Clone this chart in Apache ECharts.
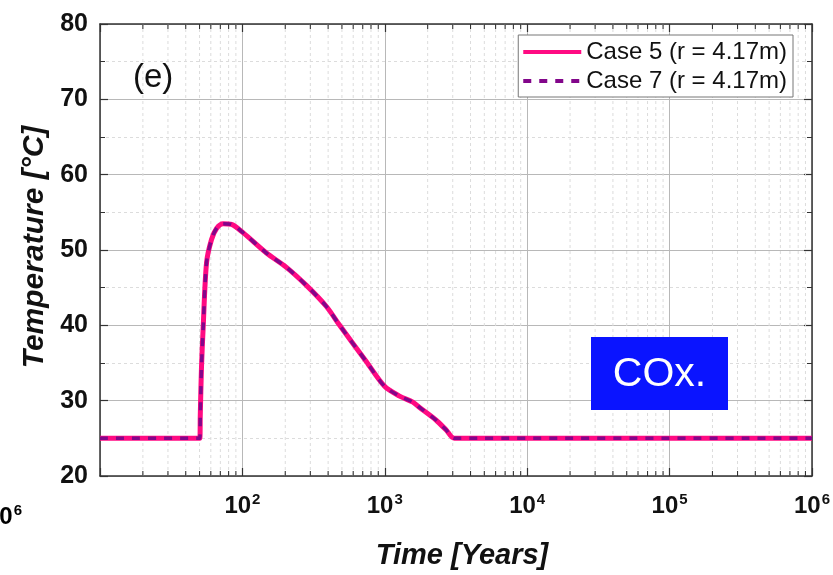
<!DOCTYPE html>
<html>
<head>
<meta charset="utf-8">
<script src="https://cdn.jsdelivr.net/npm/echarts@6/dist/echarts.min.js"></script>
<style>html,body{margin:0;padding:0;background:#fff;}#c{width:833px;height:575px;}</style>
</head>
<body>
<div id="c"></div>
<script>
// ---- data ----
const years = [10, 50.2, 50.6, 51.6, 53.0, 56.0, 60.7, 66.0, 73.2, 83.9, 101, 147.6, 203.8, 281.5, 389, 482, 741, 997, 1270, 1575, 1754, 2296, 2700, 3083, 1000000];
const case5 = [25, 25, 28.0, 34.4, 39.6, 48.3, 51.4, 52.9, 53.5, 53.4, 52.3, 49.6, 47.7, 45.3, 42.5, 40.0, 35.2, 31.9, 30.6, 29.8, 29.1, 27.4, 26.1, 25, 25];
const case7 = [25, 25, 28.0, 34.4, 39.6, 48.3, 51.4, 52.9, 53.5, 53.4, 52.3, 49.6, 47.7, 45.3, 42.5, 40.0, 35.2, 31.9, 30.6, 29.8, 29.1, 27.4, 26.1, 25, 25];
const seriesNames = ['Case 5 (r = 4.17m)', 'Case 7 (r = 4.17m)'];
const decades = [10, 100, 1000, 10000, 100000];
const minorMult = [2, 3, 4, 5, 6, 7, 8, 9];
const yTicks = [20, 30, 40, 50, 60, 70, 80];

const FONT = 'Liberation Sans, Arial, sans-serif';
const minorX = [];
decades.forEach(d => minorMult.forEach(m => minorX.push([d * m, 20])));

const chart = echarts.init(document.getElementById('c'), null, {renderer: 'canvas'});
const xLabel = v => {
  const e = Math.round(Math.log10(v));
  if (e <= 1) return '';
  return '{b|10}{s|' + e + '}';
};
const supRich = {
  b: {fontFamily: FONT, fontWeight: 'bold', fontSize: 24, color: '#111', lineHeight: 28},
  s: {fontFamily: FONT, fontWeight: 'bold', fontSize: 15, color: '#111', verticalAlign: 'top', lineHeight: 28, padding: [0, 0, 12, 1]}
};
const axisLine = {show: true, onZero: false, lineStyle: {color: '#333', width: 1.5}};
const option = {
  animation: false,
  backgroundColor: '#fff',
  grid: {left: 100, right: 21, top: 24, bottom: 90, containLabel: false},
  legend: {
    orient: 'vertical', right: 40, top: 35, z: 20,
    padding: [5, 6, 4, 3], itemGap: 5, itemWidth: 58, itemHeight: 14,
    backgroundColor: '#fff', borderColor: '#777', borderWidth: 1, borderRadius: 0,
    textStyle: {fontFamily: FONT, fontSize: 24, color: '#111', lineHeight: 24},
    itemStyle: {opacity: 0},
    lineStyle: {width: 4},
    data: seriesNames
  },
  xAxis: [{
    type: 'log', logBase: 10, min: 10, max: 1000000, position: 'bottom',
    axisLine: axisLine,
    axisTick: {show: true, inside: true, length: 8, lineStyle: {color: '#333', width: 1.2}},
    splitLine: {show: true, lineStyle: {color: '#b8b8b8', width: 1}},
    axisLabel: {formatter: xLabel, margin: 16, color: '#111', rich: supRich},
    name: 'Time [Years]', nameLocation: 'middle', nameGap: 65,
    nameTextStyle: {fontFamily: FONT, fontWeight: 'bold', fontStyle: 'italic', fontSize: 29, color: '#111', padding: [0, 0, 0, 12]}
  }, {
    type: 'log', logBase: 10, min: 10, max: 1000000, position: 'top',
    axisLine: axisLine,
    axisTick: {show: true, inside: true, length: 8, lineStyle: {color: '#333', width: 1.2}},
    splitLine: {show: false}, axisLabel: {show: false}
  }],
  yAxis: [{
    type: 'value', min: 20, max: 80, interval: 10, position: 'left',
    axisLine: axisLine,
    axisTick: {show: true, inside: true, length: 8, lineStyle: {color: '#333', width: 1.2}},
    minorTick: {show: true, splitNumber: 2, length: 5, lineStyle: {color: '#333', width: 1}},
    splitLine: {show: true, lineStyle: {color: '#b8b8b8', width: 1}},
    minorSplitLine: {show: true, lineStyle: {color: '#dcdcdc', type: [3, 3], width: 1}},
    axisLabel: {
      margin: 12, color: '#111', fontFamily: FONT, fontWeight: 'bold', fontSize: 25,
      formatter: v => (yTicks.indexOf(v) >= 0 ? String(v) : '')
    },
    name: 'Temperature [°C]', nameLocation: 'middle', nameGap: 50,
    nameTextStyle: {fontFamily: FONT, fontWeight: 'bold', fontStyle: 'italic', fontSize: 30, color: '#111', padding: [0, 0, 0, 6]}
  }, {
    type: 'value', min: 20, max: 80, interval: 10, position: 'right',
    axisLine: axisLine,
    axisTick: {show: true, inside: true, length: 8, lineStyle: {color: '#333', width: 1.2}},
    minorTick: {show: true, splitNumber: 2, length: 5, lineStyle: {color: '#333', width: 1}},
    splitLine: {show: false}, axisLabel: {show: false}
  }],
  series: [{
    type: 'custom', name: 'minor', xAxisIndex: 0, yAxisIndex: 0, z: 1, silent: true,
    data: minorX, encode: {x: 0, y: 1},
    renderItem: function (params, api) {
      const x = api.value(0);
      const b = api.coord([x, 20]);
      const t = api.coord([x, 80]);
      return {type: 'group', children: [
        {type: 'line', shape: {x1: b[0], y1: b[1], x2: t[0], y2: t[1]}, style: {stroke: '#dcdcdc', lineDash: [3, 3], lineWidth: 1}},
        {type: 'line', shape: {x1: b[0], y1: b[1], x2: b[0], y2: b[1] - 5}, style: {stroke: '#333', lineWidth: 1.1}},
        {type: 'line', shape: {x1: t[0], y1: t[1], x2: t[0], y2: t[1] + 5}, style: {stroke: '#333', lineWidth: 1.1}}
      ]};
    }
  }, {
    type: 'line', name: seriesNames[0], xAxisIndex: 0, yAxisIndex: 0, z: 3,
    data: years.map((x, i) => [x, case5[i]]),
    symbol: 'none', smooth: 0.3,
    lineStyle: {color: '#ff0a82', width: 5}, itemStyle: {color: '#ff0a82'}
  }, {
    type: 'line', name: seriesNames[1], xAxisIndex: 0, yAxisIndex: 0, z: 4,
    data: years.map((x, i) => [x, case7[i]]),
    symbol: 'none', smooth: 0.3,
    lineStyle: {color: '#82068a', width: 3.5, type: [8, 8]}, itemStyle: {color: '#82068a'}
  }],
  graphic: [
    {type: 'text', x: 133, y: 78, z: 50, style: {text: '(e)', font: '33px ' + FONT, fill: '#111', verticalAlign: 'middle'}},
    {type: 'group', x: 591, y: 337, z: 50, children: [
      {type: 'rect', z: 50, shape: {x: 0, y: 0, width: 137, height: 73}, style: {fill: '#0a14ff'}},
      {type: 'text', z: 51, x: 68.5, y: 38, style: {text: 'COx.', font: '41px ' + FONT, fill: '#fff', align: 'center', verticalAlign: 'middle'}}
    ]},
    {type: 'text', x: -14, y: 503, z: 50, style: {text: '{b|10}{s|6}', rich: supRich}}
  ]
};
chart.setOption(option);
</script>
</body>
</html>
